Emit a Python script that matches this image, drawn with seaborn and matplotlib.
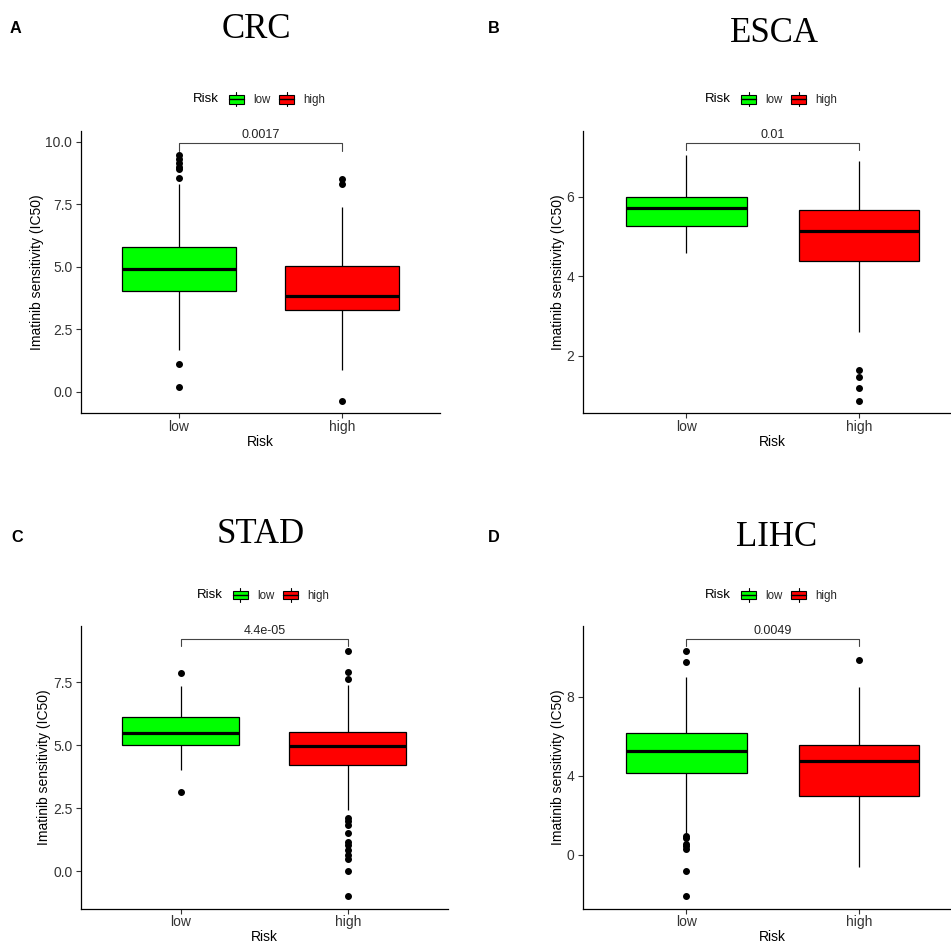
import matplotlib
matplotlib.use("Agg")
import numpy as np
import pandas as pd
import seaborn as sns
import matplotlib.pyplot as plt
from matplotlib.legend_handler import HandlerBase
from matplotlib.patches import Rectangle, Patch
from matplotlib.lines import Line2D

# ---------------- data ----------------
groups = ["low", "high"]
group_colors = ["#00FF00", "#FF0000"]
panel_letters = ["A", "B", "C", "D"]
cancer_types = ["CRC", "ESCA", "STAD", "LIHC"]
p_values = ["0.0017", "0.01", "4.4e-05", "0.0049"]

# five-number summaries: [lower whisker, Q1, median, Q3, upper whisker]
crc_low = [1.69, 4.03, 4.89, 5.79, 8.29]
crc_low_outliers = [0.20, 1.11, 8.55, 8.90, 9.00, 9.15, 9.30, 9.45]
crc_high = [0.87, 3.28, 3.84, 5.02, 7.38]
crc_high_outliers = [-0.36, 8.29, 8.49]

esca_low = [4.58, 5.25, 5.72, 6.00, 7.05]
esca_low_outliers = []
esca_high = [2.59, 4.37, 5.14, 5.66, 6.91]
esca_high_outliers = [0.87, 1.19, 1.46, 1.64]

stad_low = [4.03, 5.01, 5.47, 6.14, 7.34]
stad_low_outliers = [3.14, 7.88]
stad_high = [2.43, 4.21, 4.98, 5.51, 7.40]
stad_high_outliers = [-0.99, 0.01, 0.47, 0.64, 0.83, 1.03, 1.17, 1.52,
                      1.83, 1.97, 2.10, 7.65, 7.92, 8.75]

lihc_low = [1.08, 4.12, 5.25, 6.16, 9.01]
lihc_low_outliers = [-2.09, -0.83, 0.30, 0.43, 0.53, 0.85, 0.95, 9.74, 10.31]
lihc_high = [-0.61, 2.97, 4.74, 5.55, 8.51]
lihc_high_outliers = [9.86]

summaries = [(crc_low, crc_low_outliers, crc_high, crc_high_outliers),
             (esca_low, esca_low_outliers, esca_high, esca_high_outliers),
             (stad_low, stad_low_outliers, stad_high, stad_high_outliers),
             (lihc_low, lihc_low_outliers, lihc_high, lihc_high_outliers)]

bracket_y = [9.93, 7.34, 9.22, 10.92]
y_limits = [(-0.86, 10.44), (0.55, 7.66), (-1.51, 9.74), (-2.75, 11.58)]
y_ticks = [[0, 2.5, 5, 7.5, 10], [2, 4, 6], [0, 2.5, 5, 7.5], [0, 4, 8]]
y_tick_labels = [["0.0", "2.5", "5.0", "7.5", "10.0"], ["2", "4", "6"],
                 ["0.0", "2.5", "5.0", "7.5"], ["0", "4", "8"]]


def sample_from_summary(summary, outliers, reps=100):
    """Sample whose box-plot statistics reproduce the read summary."""
    wl, q1, med, q3, wh = summary
    return list(outliers) + [wl] + [q1] * reps + [med] * reps + [q3] * reps + [wh]


# ---------------- layout (pixels) ----------------
W, H = 951, 943
axes_px = [(80.7, 440.0, 130.7, 413.3),
           (582.7, 962.6, 130.7, 413.3),
           (80.7, 448.1, 626.0, 909.0),
           (582.7, 962.6, 626.0, 909.0)]
title_px = [(256, 38.3), (774, 41.7), (261, 543.3), (777, 545.7)]
letter_px = [(10, 33.3), (488, 33.3), (11, 541.7), (488, 541.7)]
legend_y_px = [99.3, 99.3, 595.0, 595.0]
xlabel_pad = [1.3, 1.3, 0.3, 0.3]

sns.set_theme(style="ticks")
plt.rcParams["font.family"] = ["Liberation Sans", "DejaVu Sans"]

fig = plt.figure(figsize=(W / 100, H / 100), dpi=100)


def fx(px):
    return px / W


def fy(py):
    return 1 - py / H


class BoxKeyHandler(HandlerBase):
    def create_artists(self, legend, orig_handle, xdescent, ydescent,
                       width, height, fontsize, trans):
        x0, y0 = -xdescent, -ydescent
        bh = height * 0.6
        by = y0 + (height - bh) / 2
        rect = Rectangle((x0, by), width, bh, facecolor=orig_handle.get_facecolor(),
                         edgecolor="black", linewidth=0.8, transform=trans)
        med = Line2D([x0, x0 + width], [y0 + height / 2] * 2, color="black",
                     linewidth=1.0, transform=trans)
        xc = x0 + width / 2
        t1 = Line2D([xc, xc], [by + bh, y0 + height], color="black", linewidth=0.8,
                    transform=trans)
        t2 = Line2D([xc, xc], [y0, by], color="black", linewidth=0.8, transform=trans)
        return [rect, med, t1, t2]


palette = dict(zip(groups, group_colors))

for i in range(4):
    l, r, t, b = axes_px[i]
    ax = fig.add_axes([fx(l), fy(b), (r - l) / W, (b - t) / H])
    low_s, low_o, high_s, high_o = summaries[i]
    low_vals = sample_from_summary(low_s, low_o)
    high_vals = sample_from_summary(high_s, high_o)
    df = pd.DataFrame({"Risk": ["low"] * len(low_vals) + ["high"] * len(high_vals),
                       "IC50": low_vals + high_vals})
    sns.boxplot(data=df, x="Risk", y="IC50", hue="Risk", order=groups,
                hue_order=groups, palette=palette, saturation=1, width=0.7,
                linecolor="black", linewidth=0.9, fliersize=4, showcaps=False,
                medianprops={"linewidth": 2.3, "color": "black"},
                flierprops={"marker": "o", "markerfacecolor": "black",
                            "markeredgecolor": "black"},
                legend=False, ax=ax)
    ax.set_xlim(-0.6, 1.6)
    ax.set_ylim(*y_limits[i])
    ax.set_yticks(y_ticks[i])
    ax.set_yticklabels(y_tick_labels[i])
    sns.despine(ax=ax)
    for s in ["left", "bottom"]:
        ax.spines[s].set_linewidth(0.9)
        ax.spines[s].set_color("black")
    ax.tick_params(axis="both", length=3.5, width=0.8, color="#333333",
                   labelsize=10, labelcolor="#333333")
    ax.tick_params(axis="x", pad=1.0)
    ax.tick_params(axis="y", pad=2.5)
    ax.set_xlabel("Risk", fontsize=10, color="black", labelpad=xlabel_pad[i])
    ax.set_ylabel("Imatinib sensitivity (IC50)", fontsize=10, color="black",
                  labelpad=1.1)

    # significance bracket
    yb = bracket_y[i]
    tip = 0.025 * (y_limits[i][1] - y_limits[i][0])
    ax.plot([0, 0, 1, 1], [yb - tip, yb, yb, yb - tip], color="#444444",
            linewidth=0.8, clip_on=False)
    ax.annotate(p_values[i], xy=(0.5, yb), xytext=(0, 1.5),
                textcoords="offset points", ha="center", va="bottom",
                fontsize=9, color="#222222")

    # title and panel letter
    fig.text(fx(title_px[i][0]), fy(title_px[i][1]), cancer_types[i],
             family=["Liberation Serif", "DejaVu Serif"], fontsize=25,
             ha="center", va="baseline", color="black")
    fig.text(fx(letter_px[i][0]), fy(letter_px[i][1]), panel_letters[i],
             fontsize=11.7, fontweight="bold", ha="left", va="baseline",
             color="black")

    # legend
    cx = (l + min(r, 962.6)) / 2
    ly = legend_y_px[i]
    fig.text(fx(cx - 67.5), fy(ly), "Risk", fontsize=9.5, ha="left",
             va="center", color="black")
    handles = [Patch(facecolor=c, edgecolor="black") for c in group_colors]
    fig.legend(handles, groups, loc="center left",
               bbox_to_anchor=(fx(cx - 31.5), fy(ly)),
               bbox_transform=fig.transFigure, ncol=2, frameon=False,
               fontsize=8.3, borderpad=0, borderaxespad=0,
               handlelength=1.3, handleheight=1.5, handletextpad=0.78,
               columnspacing=0.78,
               handler_map={Patch: BoxKeyHandler()})

fig.savefig("out.png", dpi=100)
